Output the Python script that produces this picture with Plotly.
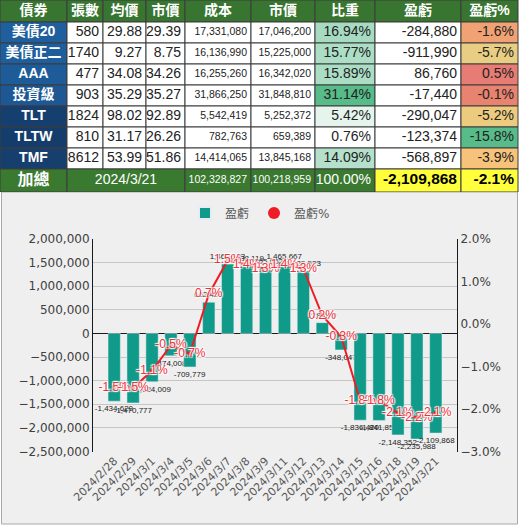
import plotly.graph_objects as go

# ---------------- table data ----------------
headers = ["債券", "張數", "均價", "市價", "成本", "市價", "比重", "盈虧", "盈虧%"]
names = ["美債20", "美債正二", "AAA", "投資級", "TLT", "TLTW", "TMF"]
lots = [580, 1740, 477, 903, 1824, 810, 8612]
avg_price = [29.88, 9.27, 34.08, 35.29, 98.02, 31.17, 53.99]
mkt_price = [29.39, 8.75, 34.26, 35.27, 92.89, 26.26, 51.86]
cost = [17331080, 16136990, 16255260, 31866250, 5542419, 782763, 14414065]
mkt_value = [17046200, 15225000, 16342020, 31848810, 5252372, 659389, 13845168]
weight = [0.1694, 0.1577, 0.1589, 0.3114, 0.0542, 0.0076, 0.1409]
pnl = [-284880, -911990, 86760, -17440, -290047, -123374, -568897]
pnl_pct = [-0.016, -0.057, 0.005, -0.001, -0.052, -0.158, -0.039]

total_label = "加總"
total_date = "2024/3/21"
total_cost = 102328827
total_value = 100218959
total_weight = 1.0
total_pnl = -2109868
total_pct = -0.021

# ---------------- chart data ----------------
dates = ["2024/2/28", "2024/2/29", "2024/3/1", "2024/3/4", "2024/3/5", "2024/3/6",
         "2024/3/7", "2024/3/8", "2024/3/9", "2024/3/11", "2024/3/12", "2024/3/13",
         "2024/3/14", "2024/3/15", "2024/3/16", "2024/3/18", "2024/3/19", "2024/3/21"]
daily_pnl = [-1434620, -1470777, -1024009, -474008, -709779, 662490,
             1469123, 1438119, 1365062, 1465667, 1325523, 228679,
             -348047, -1836420, -1841852, -2148352, -2235988, -2109868]
daily_pct = [-0.015, -0.015, -0.011, -0.005, -0.007, 0.007,
             0.015, 0.014, 0.013, 0.014, 0.013, 0.002,
             -0.003, -0.018, -0.018, -0.021, -0.022, -0.021]

# ---------------- layout / style ----------------
W, H = 520, 527
LAT = "Liberation Sans, Arial, Noto Sans CJK TC"
HDR_GREEN = "#387530"
TOT_GREEN = "#3a7a30"
YELLOW = "#ffff3c"
BORDER = "#3c3c3c"
BAR = "#0f9a8a"
RED = "#ee1c25"

col_widths = [67, 36, 43, 39, 66, 64, 60, 86, 57]
row_heights = [22] + [21] * len(names) + [23]
TABLE_H = sum(row_heights)

xe = [0]
for w in col_widths:
    xe.append(xe[-1] + w)
ye = [0]
for h in row_heights:
    ye.append(ye[-1] + h)

def px_y(p):
    return 1 - p / H

# weight colour scale white -> green
wmin, wmax = min(weight), max(weight)
def wcol(v):
    t = (v - wmin) / (wmax - wmin)
    r = round(255 + (87 - 255) * t)
    g = round(255 + (187 - 255) * t)
    b = round(255 + (138 - 255) * t)
    return f"rgb({r},{g},{b})"

weight_fill = [wcol(v) for v in weight]
pct_fill = ["#f1a274", "#e8cd82", "#e67c73", "#e8836f", "#edcb7e", "#57bb8a", "#f7c27a"]
name_fill = ["#1f5f9e", "#1f5e9c", "#1e5c99", "#1d5794", "#153f6e", "#153d6b", "#163f6e"]

# cell list: (col_start, col_end, row, text, fill, font colour, size, bold, align)
cells = []
for c, h in enumerate(headers):
    cells.append((c, c, 0, h, HDR_GREEN, "white", 14, True, "center"))
for i in range(len(names)):
    r = i + 1
    vals = [names[i], f"{lots[i]}", f"{avg_price[i]:.2f}", f"{mkt_price[i]:.2f}",
            f"{cost[i]:,}", f"{mkt_value[i]:,}", f"{weight[i] * 100:.2f}%",
            f"{pnl[i]:,}", f"{pnl_pct[i] * 100:.1f}%"]
    fills = [name_fill[i], "white", "white", "white", "white", "white",
             weight_fill[i], "white", pct_fill[i]]
    sizes = [14, 14, 14, 14, 10.5, 10.5, 14, 14, 14]
    for c in range(len(headers)):
        cells.append((c, c, r, vals[c], fills[c], "white" if c == 0 else "#222",
                      sizes[c], c == 0, "center" if c == 0 else "right"))
rt = len(names) + 1
cells += [
    (0, 0, rt, total_label, TOT_GREEN, "white", 16, True, "center"),
    (1, 3, rt, total_date, TOT_GREEN, "white", 14, False, "center"),
    (4, 4, rt, f"{total_cost:,}", TOT_GREEN, "white", 10.5, False, "right"),
    (5, 5, rt, f"{total_value:,}", TOT_GREEN, "white", 10.5, False, "right"),
    (6, 6, rt, f"{total_weight * 100:.2f}%", TOT_GREEN, "white", 14, False, "right"),
    (7, 7, rt, f"{total_pnl:,}", YELLOW, "black", 15.5, True, "right"),
    (8, 8, rt, f"{total_pct * 100:.1f}%", YELLOW, "black", 15.5, True, "right"),
]

shapes = [dict(type="rect", xref="paper", yref="paper",
               x0=1.5 / W, x1=517.5 / W, y0=px_y(524), y1=px_y(TABLE_H),
               fillcolor="#efefef", line=dict(color="#a8a8a8", width=1), layer="below")]
tx, ty, tt, tc, ts, tp = [], [], [], [], [], []
for (c0, c1, r, text, fill, fcol, size, bold, align) in cells:
    shapes.append(dict(type="rect", xref="x3", yref="y3",
                       x0=xe[c0], x1=xe[c1 + 1], y0=ye[r], y1=ye[r + 1],
                       fillcolor=fill, line=dict(color=BORDER, width=1), layer="below"))
    if align == "right":
        tx.append(xe[c1 + 1] - 4)
        tp.append("middle left")
    else:
        tx.append((xe[c0] + xe[c1 + 1]) / 2)
        tp.append("middle center")
    ty.append((ye[r] + ye[r + 1]) / 2)
    tt.append(f"<b>{text}</b>" if bold else text)
    tc.append(fcol)
    ts.append(size)

table_text = go.Scatter(
    x=tx, y=ty, text=tt, mode="text", textposition=tp, xaxis="x3", yaxis="y3",
    textfont=dict(family=LAT, size=ts, color=tc), showlegend=False,
    hoverinfo="skip", cliponaxis=False,
)

bars = go.Bar(
    x=dates, y=daily_pnl, name="盈虧", marker=dict(color=BAR),
    texttemplate="%{y:,}", textposition="outside", textangle=0,
    constraintext="none", cliponaxis=False,
    textfont=dict(family=LAT, size=8, color="#222"),
)
line = go.Scatter(
    x=dates, y=daily_pct, yaxis="y2", mode="lines",
    line=dict(color=RED, width=2), showlegend=False, hoverinfo="skip",
)
marks = go.Scatter(
    x=dates, y=daily_pct, yaxis="y2", mode="markers", name="盈虧%",
    marker=dict(color=RED, size=4),
)
labels = go.Scatter(
    x=dates, y=daily_pct, yaxis="y2", mode="text", showlegend=False,
    texttemplate="%{y:.1%}", textposition="middle center", cliponaxis=False,
    textfont=dict(family=LAT, size=12, color="#f0303a",
                  shadow="1px 1px 1px white, -1px -1px 1px white, 1px -1px 1px white, -1px 1px 1px white"),
)

fig = go.Figure([bars, line, marks, labels, table_text])

fig.update_layout(
    width=W, height=H,
    margin=dict(l=0, r=0, t=0, b=0, autoexpand=False),
    paper_bgcolor="white",
    plot_bgcolor="rgba(0,0,0,0)",
    bargap=0.35,
    showlegend=True,
    hovermode=False,
    legend=dict(orientation="h", x=0.5, xanchor="center", y=px_y(213), yanchor="middle",
                font=dict(family="DejaVu Sans, Noto Sans CJK TC", size=12, color="#595959"),
                itemsizing="constant", bgcolor="rgba(0,0,0,0)"),
    xaxis=dict(domain=[93 / W, 457 / W], type="category", tickangle=-45,
               tickfont=dict(family="DejaVu Sans", size=11, color="#595959"),
               showgrid=False, showline=False, ticks="", zeroline=False),
    yaxis=dict(domain=[px_y(451.5), px_y(239)], range=[-2500000, 2000000], dtick=500000,
               tickformat=",", tickfont=dict(family="DejaVu Sans", size=12, color="#404040"),
               showgrid=True, gridcolor="#c6c6c6", gridwidth=1,
               zeroline=True, zerolinecolor="#1a1a1a", zerolinewidth=1,
               showline=True, linecolor="#1a1a1a", linewidth=1, ticks=""),
    yaxis2=dict(overlaying="y", side="right", range=[-0.03, 0.02], dtick=0.01,
                tickformat=".1%", tickfont=dict(family="DejaVu Sans", size=12, color="#404040"),
                showgrid=False, zeroline=False, showline=True, linecolor="#1a1a1a",
                linewidth=1, ticks="", anchor="x"),
    xaxis3=dict(domain=[0, 1], range=[0, W], visible=False, fixedrange=True, anchor="y3"),
    yaxis3=dict(domain=[px_y(TABLE_H), 1], range=[TABLE_H, 0], visible=False,
                fixedrange=True, anchor="x3"),
    shapes=shapes,
)

fig.write_html("out.html", config={"displayModeBar": False},
               post_script="document.body.style.margin='0px';")
